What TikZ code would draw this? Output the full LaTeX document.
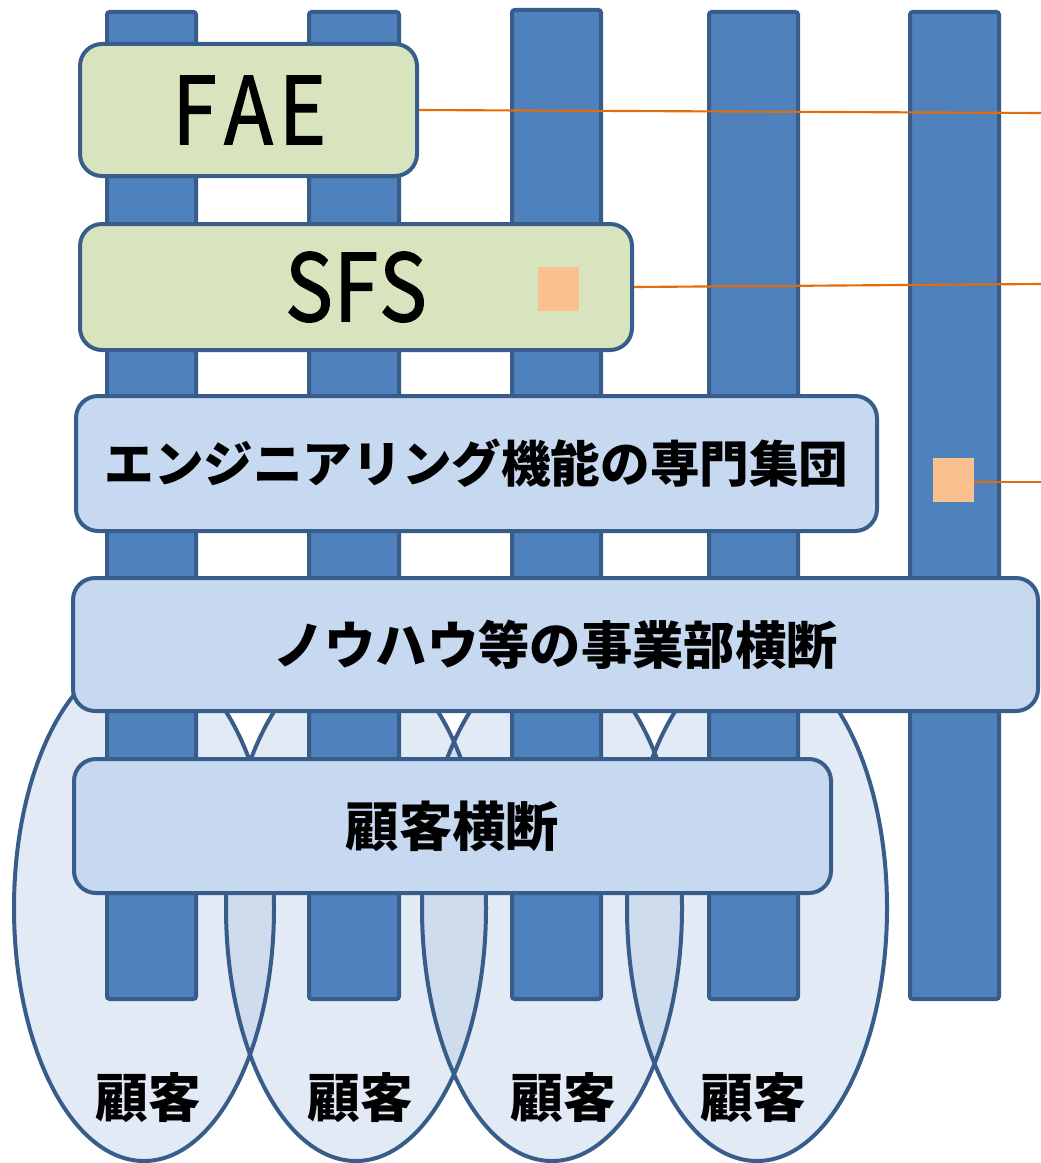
\documentclass[tikz,border=0pt]{standalone}
\usepackage{fontspec}
\usepackage{graphicx}
\newfontfamily\jp{Noto Sans CJK JP}
\newfontfamily\jplat{Noto Sans CJK JP}[FakeBold=1.6]
\definecolor{barfill}{HTML}{4F81BD}
\definecolor{barline}{HTML}{385D8A}
\definecolor{grn}{HTML}{D7E4BD}
\definecolor{lblue}{HTML}{C6D9F1}
\definecolor{ellfill}{RGB}{160,188,222}
\definecolor{oline}{HTML}{E46C0A}
\definecolor{sqfill}{HTML}{FAC090}
\newcommand\monoch[2]{\makebox[#1][c]{\scalebox{0.86}[1]{#2}}}
\tikzset{
  bar/.style={draw=barline, fill=barfill, line width=3pt, rounded corners=2pt},
  ebox/.style={rectangle, draw=barline, line width=3pt, rounded corners=16.5pt, inner sep=0pt,
     font=\jp\bfseries\fontsize{37.2pt}{40pt}\selectfont},
  gbox/.style={ebox, fill=grn, font=\jplat\fontsize{69.6pt}{72pt}\selectfont},
  bbox/.style={ebox, fill=lblue},
  elfill/.style={fill=ellfill, fill opacity=0.3},
  elline/.style={draw=barline, line width=3pt},
  oconn/.style={draw=oline, line width=1.6pt},
  sqr/.style={rectangle, fill=sqfill, inner sep=0pt, minimum width=30.75pt, minimum height=33pt},
  lbl/.style={inner sep=0pt, font=\jp\bfseries\fontsize{39.5pt}{42pt}\selectfont}
}
\begin{document}
\begin{tikzpicture}[x=0.75pt,y=-0.75pt]
\useasboundingbox[fill=white] (0,0) rectangle (1041,1163);
% customer ellipses (fills, then outlines)
\foreach \cx in {144,356,552,757}{
  \fill[elfill] (\cx,908) ellipse [x radius=97.5pt, y radius=189.75pt];
}
\foreach \cx in {144,356,552,757}{
  \draw[elline] (\cx,908) ellipse [x radius=97.5pt, y radius=189.75pt];
}
% vertical bars
\draw[bar] (107,12) rectangle (196,999);
\draw[bar] (309,12) rectangle (399,999);
\draw[bar] (512,10) rectangle (601,999);
\draw[bar] (709,12) rectangle (798,999);
\draw[bar] (910,12) rectangle (999,999);
% boxes
\node[gbox, minimum width=252.75pt, minimum height=99pt] (fae) at (248.5,110)
  {\monoch{40.5pt}{F}\monoch{40.5pt}{A}\monoch{40.5pt}{E}};
\node[gbox, minimum width=414pt, minimum height=94.5pt] (sfs) at (356,287)
  {\monoch{35.25pt}{S}\monoch{35.25pt}{F}\monoch{35.25pt}{S}};
\node[bbox, minimum width=600.75pt, minimum height=101.25pt] (eng) at (476.5,463.5)
  {エンジニアリング機能の専門集団};
\node[bbox, minimum width=723.75pt, minimum height=99.75pt,
      font=\jp\bfseries\fontsize{38.5pt}{41pt}\selectfont] (know) at (555.5,644.5)
  {ノウハウ等の事業部横断};
\node[bbox, minimum width=567.75pt, minimum height=100.5pt,
      font=\jp\bfseries\fontsize{40pt}{42pt}\selectfont] (cust) at (452.5,826)
  {顧客横断};
% small squares
\node[sqr] (sq1) at (558.5,289) {};
\node[sqr] (sq2) at (953.5,480) {};
% connector ends
\coordinate (e1) at (1041,113);
\coordinate (e2) at (1041,284);
\coordinate (e3) at (1041,482);
\draw[oconn] (fae.east) -- (e1);
\draw[oconn] (sfs.east) -- (e2);
\draw[oconn] (sq2.east |- 0,482) -- (e3);
% customer labels
\node[lbl] (k1) at (148,1098) {顧客};
\node[lbl] (k2) at (360,1098) {顧客};
\node[lbl] (k3) at (563,1098) {顧客};
\node[lbl] (k4) at (753,1098) {顧客};
\end{tikzpicture}
\end{document}
